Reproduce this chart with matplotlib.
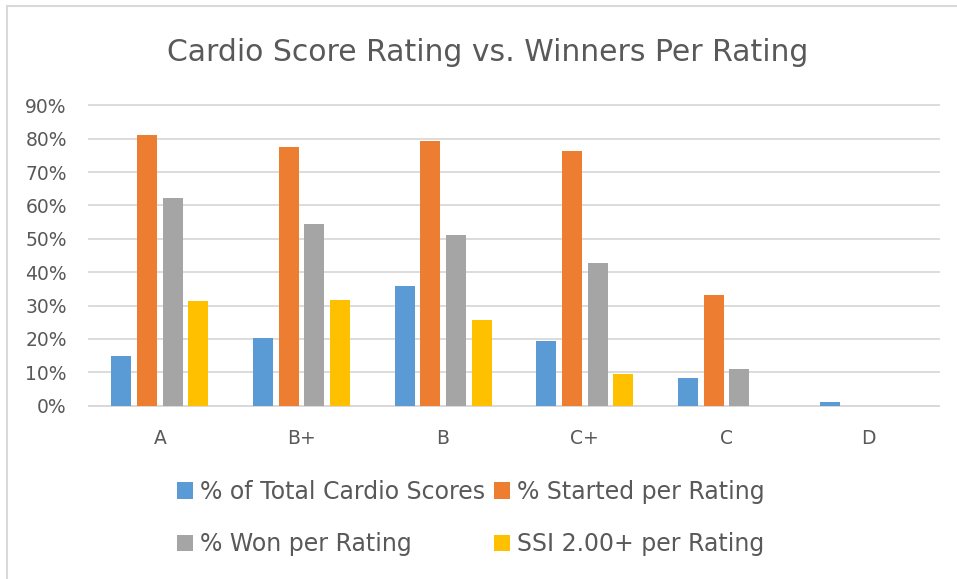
import matplotlib
matplotlib.use('Agg')
import matplotlib.pyplot as plt
from matplotlib.lines import Line2D
from matplotlib.ticker import PercentFormatter
import numpy as np

plt.rcParams['font.family'] = ['DejaVu Sans']

ratings = ['A', 'B+', 'B', 'C+', 'C', 'D']
series_names = ['% of Total Cardio Scores', '% Started per Rating',
                '% Won per Rating', 'SSI 2.00+ per Rating']
total_scores = [0.149, 0.203, 0.359, 0.194, 0.083, 0.011]
started = [0.812, 0.774, 0.794, 0.764, 0.332, 0.0]
won = [0.623, 0.545, 0.512, 0.428, 0.110, 0.0]
ssi = [0.314, 0.317, 0.257, 0.095, 0.0, 0.0]
colors = ['#5b9bd5', '#ed7d31', '#a5a5a5', '#ffc000']

text_color = '#595959'
grid_color = '#d9d9d9'

fig = plt.figure(figsize=(9.57, 5.79), dpi=100)
ax = fig.add_axes([0.093, 0.2993, 0.888, 0.5188])

x = np.arange(len(ratings))
step = 0.181
width = 0.141
handles = []
for i, (vals, name, c) in enumerate(zip([total_scores, started, won, ssi], series_names, colors)):
    b = ax.bar(x + (i - 1.5) * step, vals, width, color=c, label=name, zorder=3)
    handles.append(b)

ax.set_xlim(-0.5, len(ratings) - 0.5)
ax.set_ylim(0, 0.9)
ax.set_yticks(np.arange(0, 0.91, 0.1))
ax.yaxis.set_major_formatter(PercentFormatter(1.0, decimals=0))
ax.set_xticks(x)
ax.set_xticklabels(ratings)
ax.grid(axis='y', color=grid_color, linewidth=1.3, zorder=0)
for line in ax.get_ygridlines():
    line.set_clip_on(False)  # keep the 90% line at full width
for s in ['top', 'right', 'left']:
    ax.spines[s].set_visible(False)
ax.spines['bottom'].set_color(grid_color)
ax.spines['bottom'].set_linewidth(1.3)
ax.tick_params(axis='both', length=0, colors=text_color, labelsize=13.5)
ax.tick_params(axis='x', pad=17)
ax.tick_params(axis='y', pad=16)

fig.text(0.51, 0.91, 'Cardio Score Rating vs. Winners Per Rating',
         ha='center', va='center', fontsize=21.5, color=text_color)

# ncol=2 fills column-wise, so reorder to get blue/orange on the first row
order = [0, 2, 1, 3]
leg = fig.legend([handles[i] for i in order], [series_names[i] for i in order],
                 ncol=2, loc='center', bbox_to_anchor=(0.492, 0.1054),
                 frameon=False, fontsize=17, labelcolor=text_color,
                 handlelength=0.68, handleheight=0.68, handletextpad=0.3,
                 columnspacing=0.4, labelspacing=1.2)

# chart frame: only the left and top edges show
fig.add_artist(Line2D([7 / 957, 7 / 957], [0, 1 - 6 / 579], transform=fig.transFigure,
                      color=grid_color, linewidth=1.5))
fig.add_artist(Line2D([7 / 957, 1], [1 - 6 / 579, 1 - 6 / 579], transform=fig.transFigure,
                      color=grid_color, linewidth=1.5))

fig.savefig('out.png', dpi=100)
